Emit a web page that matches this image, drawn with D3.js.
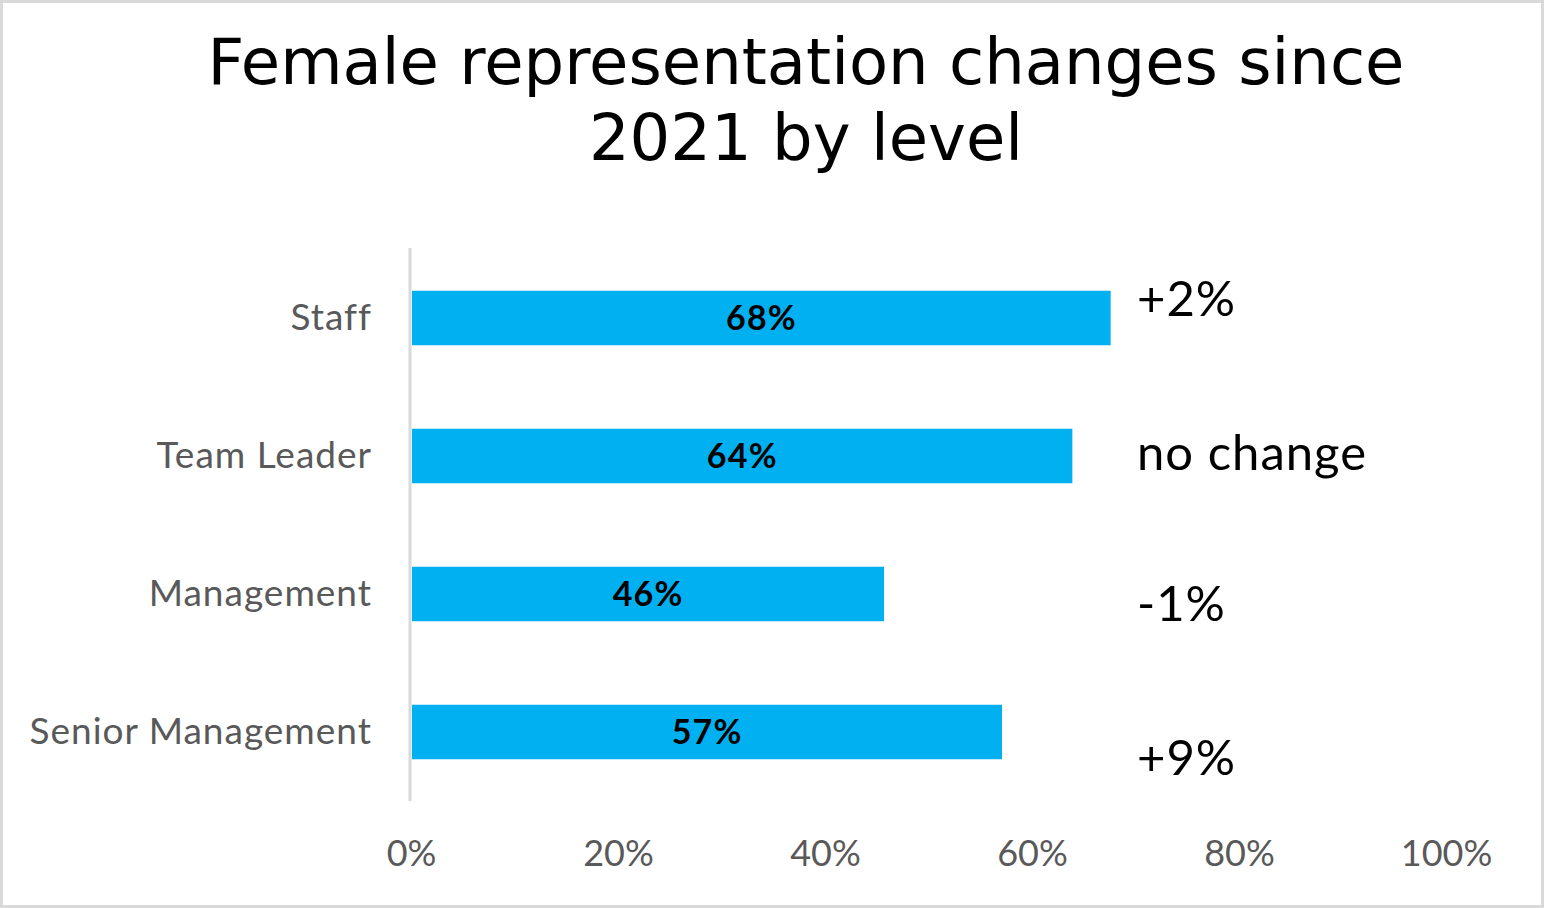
<!DOCTYPE html>
<html><head><meta charset="utf-8">
<script src="https://cdn.jsdelivr.net/npm/d3@7"></script>
<style>
html,body{margin:0;padding:0;background:#fff;}
svg{display:block;}
</style></head>
<body>
<svg id="chart" width="1544" height="908"></svg>
<script>
const categories = ["Staff", "Team Leader", "Management", "Senior Management"];
const values = [0.676, 0.639, 0.457, 0.571];
const changes = ["+2%", "no change", "-1%", "+9%"];
const tickValues = [0, 0.2, 0.4, 0.6, 0.8, 1.0];
const titleLines = ["Female representation changes since", "2021 by level"];

const W = 1544, H = 908;
const svg = d3.select("#chart");
const labelFont = "Lato, 'Open Sans', sans-serif";

svg.append("rect").attr("x", 1.5).attr("y", 1.5).attr("width", W - 3).attr("height", H - 3)
  .attr("fill", "#fff").attr("stroke", "#d9d9d9").attr("stroke-width", 3);

svg.append("text").attr("x", 806).attr("y", 84).attr("text-anchor", "middle")
  .style("font-family", "'DejaVu Sans', Verdana, sans-serif").style("font-size", "64px").attr("fill", "#000")
  .selectAll("tspan").data(titleLines).join("tspan")
  .attr("x", 806).attr("dy", (d, i) => i === 0 ? 0 : 76).text(d => d);

const x = d3.scaleLinear().domain([0, 1]).range([411, 1446]);
const y = d3.scaleBand().domain(categories).range([249, 801]).paddingInner(0.605).paddingOuter(0.3025);

// axis line
svg.append("line").attr("x1", 410).attr("x2", 410).attr("y1", 248).attr("y2", 801)
  .attr("stroke", "#d9d9d9").attr("stroke-width", 3);

// bars
svg.selectAll("rect.bar").data(categories).join("rect").attr("class", "bar")
  .attr("x", x(0) + 1).attr("y", d => y(d))
  .attr("width", (d, i) => x(values[i]) - x(0) - 1).attr("height", y.bandwidth())
  .attr("fill", "#00b0f0");

// bar labels
svg.selectAll("text.val").data(categories).join("text").attr("class", "val")
  .attr("x", (d, i) => (x(0) + x(values[i])) / 2 + 0.6).attr("y", d => y(d) + y.bandwidth() / 2)
  .attr("dy", "0.36em").attr("text-anchor", "middle")
  .style("font-family", labelFont).style("font-weight", "bold").style("font-size", "34px")
  .style("letter-spacing", "1.2px")
  .attr("fill", "#000").text((d, i) => d3.format(".0%")(values[i]));

// category labels
const yAxis = d3.axisLeft(y).tickSize(0).tickPadding(38);
const ya = svg.append("g").attr("transform", "translate(410,0)").call(yAxis);
ya.select(".domain").remove();
ya.selectAll("text").style("font-family", labelFont).style("font-size", "37px")
  .style("letter-spacing", "1px").attr("fill", "#595959");

// x axis
const xAxis = d3.axisBottom(x).tickValues(tickValues).tickFormat(d3.format(".0%")).tickSize(0).tickPadding(0);
const xa = svg.append("g").attr("transform", "translate(0,840)").call(xAxis);
xa.select(".domain").remove();
xa.selectAll("text").style("font-family", labelFont).style("font-size", "36px").attr("fill", "#595959");

// change annotations
const changeOffsets = [-20, -4, 9, 25];
svg.selectAll("text.chg").data(categories).join("text").attr("class", "chg")
  .attr("x", 1137).attr("y", (d, i) => y(d) + y.bandwidth() / 2 + changeOffsets[i])
  .attr("dy", "0.36em")
  .style("font-family", labelFont).style("font-size", "49px").style("letter-spacing", "1px")
  .attr("fill", "#000")
  .text((d, i) => changes[i]);
</script>
</body></html>
